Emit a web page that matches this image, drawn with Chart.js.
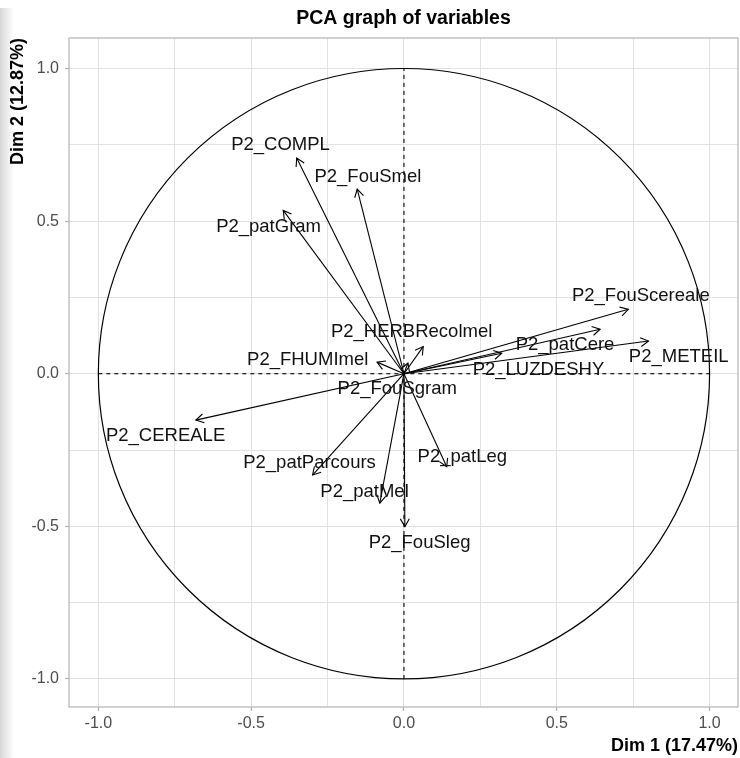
<!DOCTYPE html>
<html>
<head>
<meta charset="utf-8">
<script src="https://cdn.jsdelivr.net/npm/chart.js@4.4.1/dist/chart.umd.min.js"></script>
<style>
  html, body { margin: 0; padding: 0; background: #fff; }
  #wrap { position: relative; width: 740px; height: 758px; }
  #strip { position: absolute; left: 0; top: 8px; width: 14px; bottom: 0;
           background: linear-gradient(to right, #d6d6d6 0px, #e6e6e6 5px, #f3f3f3 10px, #ffffff 14px); }
  #c { position: absolute; left: 0; top: 0; }
</style>
</head>
<body>
<div id="wrap">
  <div id="strip"></div>
  <canvas id="c" width="740" height="758"></canvas>
</div>
<script>
// ---- Data ----
const varNames = ["P2_COMPL", "P2_FouSmel", "P2_patGram", "P2_FouScereale", "P2_patCere",
  "P2_METEIL", "P2_LUZDESHY", "P2_HERBRecolmel", "P2_FHUMImel", "P2_FouSgram",
  "P2_CEREALE", "P2_patParcours", "P2_patMel", "P2_FouSleg", "P2_patLeg"];
const dim1 = [-0.351, -0.153, -0.395, 0.734, 0.642, 0.800, 0.320, 0.063, -0.088, 0.013,
  -0.681, -0.299, -0.079, 0.003, 0.140];
const dim2 = [0.707, 0.605, 0.535, 0.211, 0.146, 0.107, 0.067, 0.089, 0.038, 0.035,
  -0.152, -0.332, -0.424, -0.501, -0.305];
// label anchor positions (repelled labels) in data units
const labelDim1 = [-0.404, -0.118, -0.443, 0.775, 0.527, 0.899, 0.440, 0.025, -0.315, -0.022,
  -0.780, -0.309, -0.129, 0.051, 0.191];
const labelDim2 = [0.750, 0.646, 0.481, 0.256, 0.095, 0.055, 0.013, 0.138, 0.046, -0.050,
  -0.205, -0.293, -0.388, -0.555, -0.271];
const tickValues = [-1, -0.75, -0.5, -0.25, 0, 0.25, 0.5, 0.75, 1];
const labeledTicks = [-1, -0.5, 0, 0.5, 1];
const titleText = "PCA graph of variables";
const xTitle = "Dim 1 (17.47%)";
const yTitle = "Dim 2 (12.87%)";

// ---- Build datasets ----
const datasets = [];
datasets.push({ data: [{x: -1, y: 0}, {x: 1, y: 0}], borderColor: '#000', borderWidth: 1.1,
  borderDash: [4, 4], pointRadius: 0, showLine: true, order: 2 });
datasets.push({ data: [{x: 0, y: -1}, {x: 0, y: 1}], borderColor: '#000', borderWidth: 1.1,
  borderDash: [4, 4], pointRadius: 0, showLine: true, order: 2 });
varNames.forEach((n, i) => {
  datasets.push({ label: n, data: [{x: 0, y: 0}, {x: dim1[i], y: dim2[i]}],
    borderColor: '#000', borderWidth: 1.1, pointRadius: 0, showLine: true, isArrow: true, idx: i, order: 1 });
});

const isMajor = v => labeledTicks.some(t => Math.abs(t - v) < 1e-9);

const decor = {
  id: 'decor',
  beforeDatasetsDraw(chart) {
    const {ctx, chartArea: a, scales: {x, y}} = chart;
    ctx.save();
    // correlation circle
    const cx = x.getPixelForValue(0), cy = y.getPixelForValue(0);
    const rx = x.getPixelForValue(1) - cx, ry = cy - y.getPixelForValue(1);
    ctx.beginPath();
    ctx.ellipse(cx, cy, rx, ry, 0, 0, Math.PI * 2);
    ctx.strokeStyle = '#000';
    ctx.lineWidth = 1.2;
    ctx.stroke();
    // panel border
    ctx.strokeStyle = '#b3b3b3';
    ctx.lineWidth = 1.2;
    ctx.strokeRect(a.left, a.top, a.right - a.left, a.bottom - a.top);
    ctx.restore();
  },
  afterDatasetsDraw(chart) {
    const {ctx, scales: {x, y}} = chart;
    ctx.save();
    ctx.strokeStyle = '#000';
    ctx.lineWidth = 1.1;
    const L = 9, ang = Math.PI / 6;
    chart.data.datasets.forEach(ds => {
      if (!ds.isArrow) return;
      const x0 = x.getPixelForValue(ds.data[0].x), y0 = y.getPixelForValue(ds.data[0].y);
      const x1 = x.getPixelForValue(ds.data[1].x), y1 = y.getPixelForValue(ds.data[1].y);
      const th = Math.atan2(y1 - y0, x1 - x0);
      ctx.beginPath();
      ctx.moveTo(x1 - L * Math.cos(th - ang), y1 - L * Math.sin(th - ang));
      ctx.lineTo(x1, y1);
      ctx.lineTo(x1 - L * Math.cos(th + ang), y1 - L * Math.sin(th + ang));
      ctx.stroke();
    });
    // labels
    ctx.fillStyle = '#111';
    ctx.font = '18.5px "Liberation Sans", Arial, sans-serif';
    ctx.textAlign = 'center';
    ctx.textBaseline = 'middle';
    varNames.forEach((n, i) => {
      ctx.fillText(n, x.getPixelForValue(labelDim1[i]), y.getPixelForValue(labelDim2[i]));
    });
    ctx.restore();
  },
  afterDraw(chart) {
    const {ctx, chartArea: a} = chart;
    ctx.save();
    ctx.fillStyle = '#000';
    ctx.font = 'bold 19.5px "Liberation Sans", Arial, sans-serif';
    ctx.textAlign = 'center';
    ctx.textBaseline = 'middle';
    ctx.fillText(titleText, (a.left + a.right) / 2, 19);
    ctx.restore();
  }
};

const tickFont = { family: '"Liberation Sans", Arial, sans-serif', size: 16 };
const titleFont = { family: '"Liberation Sans", Arial, sans-serif', size: 18, weight: 'bold' };

function axisOpts(min, max, titleTextStr, isX) {
  return {
    type: 'linear',
    min: min, max: max,
    afterBuildTicks: s => { s.ticks = tickValues.map(v => ({ value: v })); },
    afterFit: s => { if (isX) s.height = 51; else s.width = 69; },
    ticks: {
      autoSkip: false, maxRotation: 0, minRotation: 0,
      padding: isX ? 3 : 6,
      color: '#4d4d4d',
      font: tickFont,
      callback: v => isMajor(v) ? Number(v).toFixed(1) : ''
    },
    grid: {
      color: '#e2e2e2',
      lineWidth: 1,
      tickLength: 4,
      tickColor: c => (c.tick && isMajor(c.tick.value)) ? '#b3b3b3' : 'rgba(0,0,0,0)',
      tickWidth: 1.2
    },
    border: { display: false },
    title: {
      display: true, text: titleTextStr, align: 'end', color: '#000', font: titleFont,
      padding: isX ? { top: 4, bottom: 1 } : { top: 7, bottom: 4 }
    }
  };
}

new Chart(document.getElementById('c'), {
  type: 'scatter',
  data: { datasets },
  options: {
    responsive: false,
    animation: false,
    events: [],
    layout: { padding: { top: 38, right: 2, left: 0, bottom: 0 } },
    plugins: { legend: { display: false }, tooltip: { enabled: false }, title: { display: false } },
    scales: {
      x: axisOpts(-1.096, 1.093, xTitle, true),
      y: axisOpts(-1.092, 1.100, yTitle, false)
    }
  },
  plugins: [decor]
});
</script>
</body>
</html>
